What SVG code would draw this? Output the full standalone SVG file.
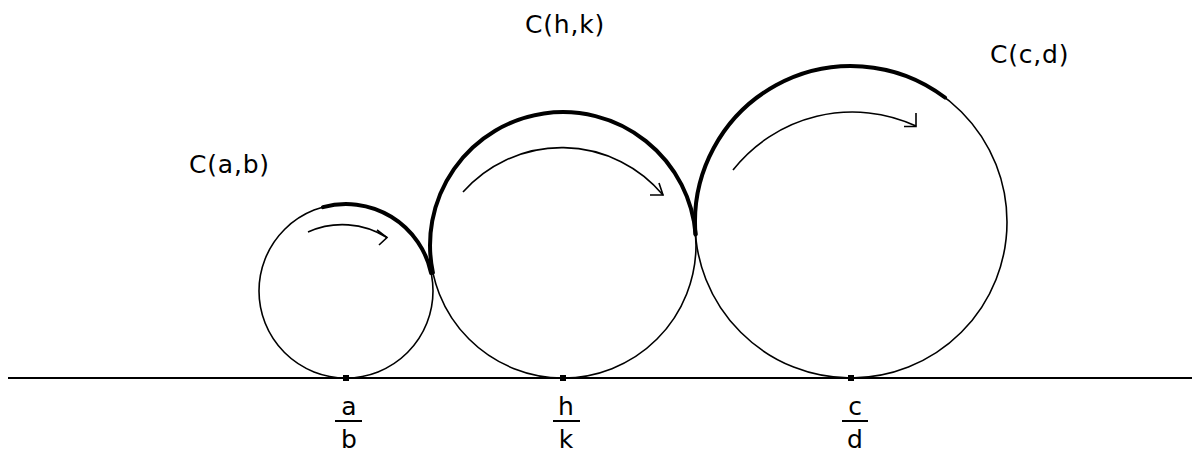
<svg xmlns="http://www.w3.org/2000/svg" width="1192" height="456" viewBox="0 0 1192 456">
<style>
.circ{fill:none;stroke:#000;stroke-width:1.6}
.thick{fill:none;stroke:#000;stroke-width:4;stroke-linecap:round}
.arr{fill:none;stroke:#000;stroke-width:1.6}
.lbl{font-family:"DejaVu Sans",sans-serif;font-size:25px;fill:#000;letter-spacing:0.8px}
.frac{font-family:"DejaVu Sans",sans-serif;font-size:25px;fill:#000;text-anchor:middle}
.bar{stroke:#000;stroke-width:2}
</style>
<rect width="1192" height="456" fill="#fff"/>
<g id="connectors">
<line x1="8" y1="378" x2="1192" y2="378" stroke="#000" stroke-width="2"/>
</g>
<g id="circle-ab">
<circle class="circ" cx="346" cy="291" r="87"/>
<path class="thick" d="M 323 207.1 A 87 87 0 0 1 431.1 273"/>
<path class="arr" d="M 308 232 A 84 84 0 0 1 387 237.5"/>
<polyline class="arr" points="377,230 387,237.5 379,245"/>
<text class="lbl" x="189" y="173">C(a,b)</text>
</g>
<g id="circle-hk">
<circle class="circ" cx="563" cy="245" r="133"/>
<path class="thick" d="M 432.9 272.6 A 133 133 0 1 1 695.6 234.4"/>
<path class="arr" d="M 463 192 A 132 132 0 0 1 663 195"/>
<polyline class="arr" points="659,183 663,195 650,195"/>
<text class="lbl" x="525" y="33">C(h,k)</text>
</g>
<g id="circle-cd">
<circle class="circ" cx="851" cy="222" r="156"/>
<path class="thick" d="M 695.5 234.4 A 156 156 0 0 1 945 97.5"/>
<path class="arr" d="M 733 170 A 152 152 0 0 1 916 126"/>
<polyline class="arr" points="916,113 916,126.5 904,126.5"/>
<text class="lbl" x="990" y="63">C(c,d)</text>
</g>
<g id="point-ab">
<rect x="343" y="375" width="6" height="6"/>
<text class="frac" x="349" y="415">a</text>
<line class="bar" x1="335" y1="421" x2="362" y2="421"/>
<text class="frac" x="349" y="448">b</text>
</g>
<g id="point-hk">
<rect x="560" y="375" width="6" height="6"/>
<text class="frac" x="566" y="415">h</text>
<line class="bar" x1="553" y1="421" x2="580" y2="421"/>
<text class="frac" x="566" y="448">k</text>
</g>
<g id="point-cd">
<rect x="848" y="375" width="6" height="6"/>
<text class="frac" x="855" y="415">c</text>
<line class="bar" x1="842" y1="421" x2="868" y2="421"/>
<text class="frac" x="855" y="448">d</text>
</g>
</svg>
